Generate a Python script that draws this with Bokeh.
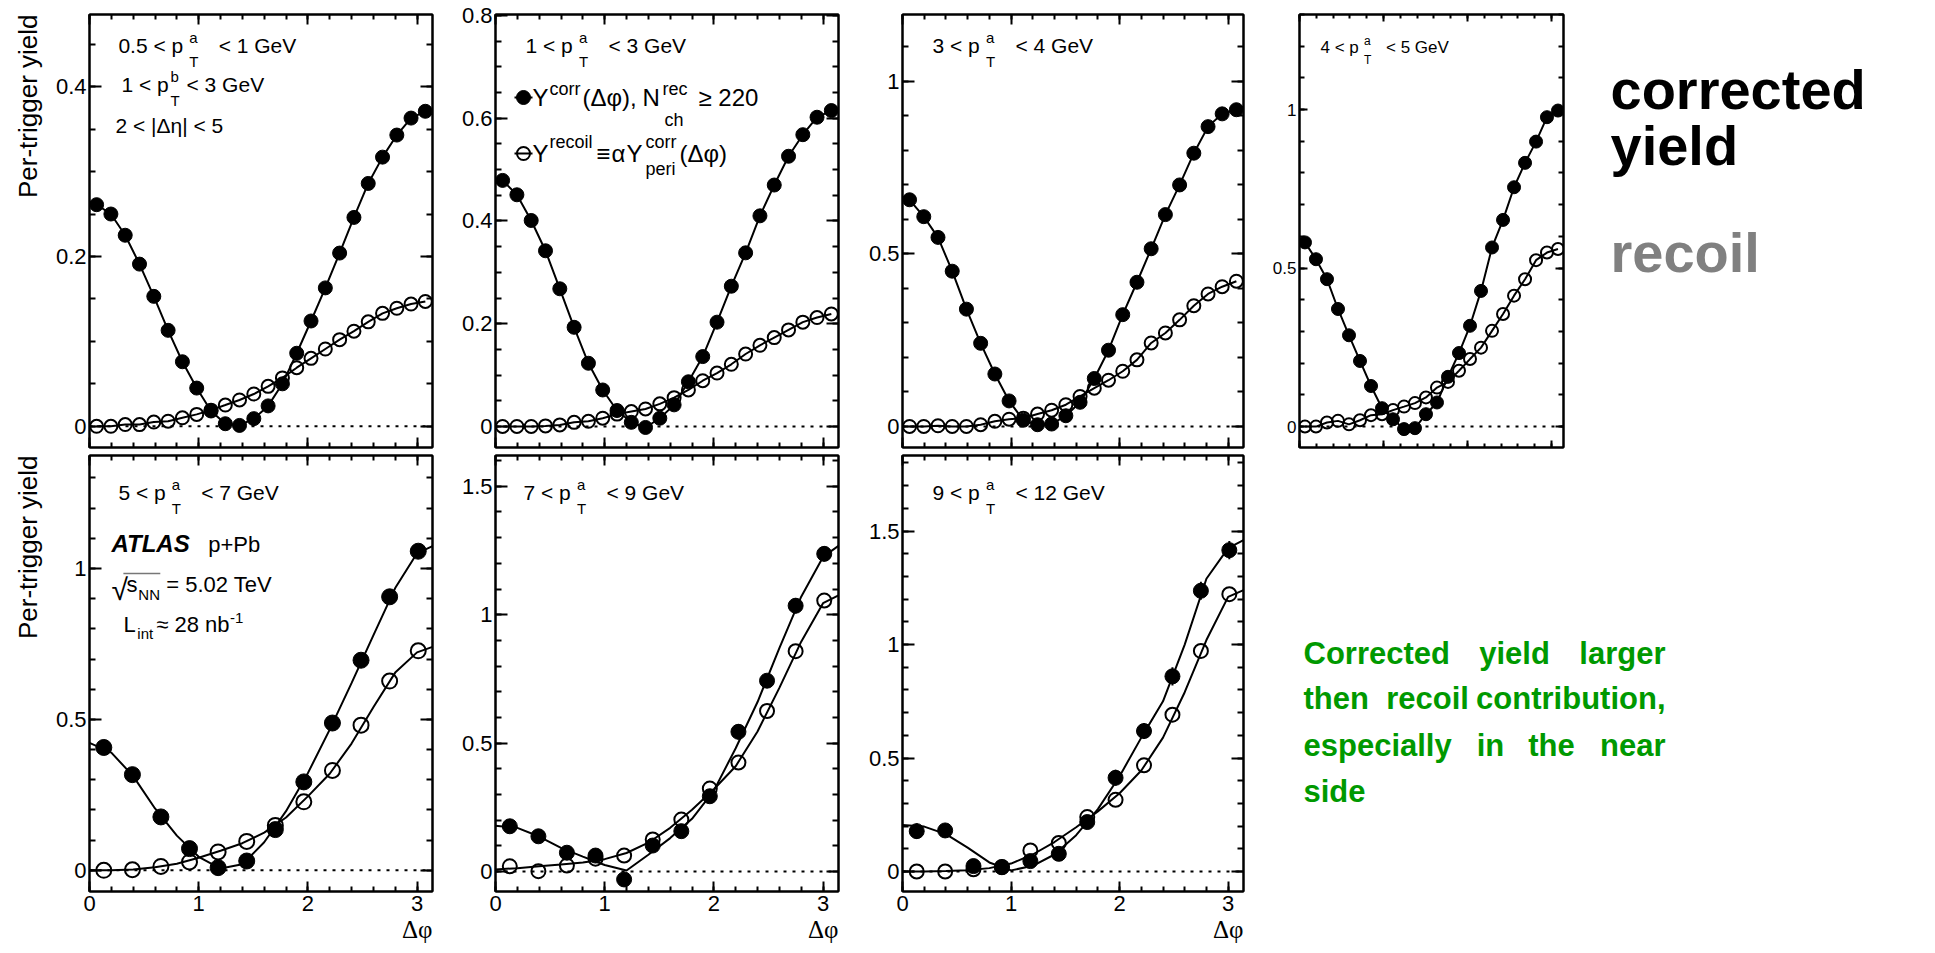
import math
from bokeh.plotting import figure
from bokeh.models import Range1d, LinearAxis, FixedTicker, CustomJSTickFormatter, Label, Span, Title
from bokeh.layouts import row, column
from bokeh.embed import file_html
from bokeh.resources import INLINE

PI = math.pi
SANS = "Liberation Sans"
SERIF = "Liberation Serif"
BASE_FIX = 0.38   # em shift so that the drawn baseline lands where it is wanted

# ---------------- data ----------------
X24 = [0.065, 0.196, 0.327, 0.458, 0.589, 0.720, 0.851, 0.982, 1.113, 1.244, 1.374, 1.505,
       1.636, 1.767, 1.898, 2.029, 2.160, 2.291, 2.422, 2.553, 2.684, 2.815, 2.945, 3.076]
X12 = [0.131, 0.393, 0.654, 0.916, 1.178, 1.440, 1.702, 1.963, 2.225, 2.487, 2.749, 3.011]
XFIT = [0.0, 0.2, 0.4, 0.6, 0.8, 1.0, 1.2, 1.4, 1.6, 1.8, 2.0, 2.2, 2.4, 2.6, 2.8, 3.0, 3.1416]

p1_corr = [0.261, 0.250, 0.225, 0.191, 0.153, 0.113, 0.076, 0.045, 0.018, 0.003, 0.001, 0.009,
           0.024, 0.050, 0.086, 0.124, 0.163, 0.204, 0.246, 0.286, 0.317, 0.343, 0.363, 0.371]
p1_recoil = [0.000, 0.000, 0.002, 0.002, 0.005, 0.006, 0.010, 0.014, 0.019, 0.025, 0.031, 0.038,
             0.047, 0.057, 0.069, 0.080, 0.091, 0.102, 0.112, 0.123, 0.133, 0.139, 0.144, 0.147]

p2_corr = [0.479, 0.451, 0.401, 0.342, 0.268, 0.193, 0.123, 0.071, 0.031, 0.008, -0.002, 0.016,
           0.042, 0.087, 0.136, 0.203, 0.273, 0.338, 0.410, 0.470, 0.526, 0.568, 0.602, 0.615]
p2_recoil = [0.000, 0.000, 0.000, 0.001, 0.003, 0.008, 0.010, 0.016, 0.024, 0.029, 0.034, 0.044,
             0.056, 0.071, 0.089, 0.104, 0.121, 0.141, 0.158, 0.173, 0.188, 0.203, 0.212, 0.219]

p3_corr = [0.657, 0.608, 0.548, 0.450, 0.340, 0.241, 0.152, 0.074, 0.018, 0.005, 0.007, 0.031,
           0.070, 0.139, 0.221, 0.324, 0.418, 0.515, 0.614, 0.700, 0.792, 0.869, 0.906, 0.918]
p3_recoil = [0.000, 0.000, 0.002, 0.000, 0.000, 0.005, 0.015, 0.021, 0.024, 0.036, 0.047, 0.063,
             0.087, 0.111, 0.134, 0.160, 0.193, 0.242, 0.271, 0.309, 0.350, 0.384, 0.405, 0.421]

p4_corr = [0.581, 0.528, 0.465, 0.371, 0.288, 0.207, 0.128, 0.058, 0.023, -0.008, -0.005, 0.039,
           0.076, 0.157, 0.232, 0.318, 0.428, 0.565, 0.652, 0.755, 0.832, 0.899, 0.976, 0.997]
p4_recoil = [0.000, 0.000, 0.013, 0.018, 0.007, 0.020, 0.036, 0.039, 0.052, 0.063, 0.074, 0.092,
             0.123, 0.141, 0.176, 0.213, 0.249, 0.302, 0.355, 0.413, 0.465, 0.525, 0.549, 0.560]

p5_corr = [0.407, 0.317, 0.177, 0.072, 0.009, 0.031, 0.135, 0.293, 0.488, 0.696, 0.906, 1.057]
p5_corr_err = [0.005, 0.005, 0.005, 0.005, 0.005, 0.005, 0.006, 0.007, 0.008, 0.009, 0.010, 0.010]
p5_recoil = [0.000, 0.002, 0.013, 0.028, 0.061, 0.096, 0.149, 0.227, 0.331, 0.481, 0.627, 0.727]
p5_corr_fit = [0.422, 0.390, 0.312, 0.205, 0.115, 0.045, 0.006, 0.020, 0.093, 0.196, 0.322, 0.466,
               0.620, 0.778, 0.935, 1.050, 1.074]
p5_recoil_fit = [0.000, 0.000, 0.003, 0.010, 0.022, 0.042, 0.065, 0.090, 0.125, 0.175, 0.245, 0.320,
                 0.420, 0.540, 0.655, 0.722, 0.740]

p6_corr = [0.176, 0.137, 0.073, 0.062, -0.031, 0.101, 0.157, 0.293, 0.544, 0.743, 1.035, 1.237]
p6_corr_err = [0.012, 0.012, 0.012, 0.012, 0.015, 0.015, 0.018, 0.020, 0.030, 0.025, 0.030, 0.030]
p6_recoil = [0.020, 0.001, 0.023, 0.050, 0.062, 0.125, 0.202, 0.323, 0.424, 0.625, 0.858, 1.055]
p6_corr_fit = [0.178, 0.170, 0.136, 0.092, 0.058, 0.025, 0.004, 0.065, 0.130, 0.205, 0.315, 0.480,
               0.660, 0.870, 1.070, 1.225, 1.268]
p6_recoil_fit = [0.008, 0.013, 0.020, 0.027, 0.035, 0.048, 0.072, 0.112, 0.170, 0.240, 0.320, 0.410,
                 0.545, 0.715, 0.895, 1.045, 1.075]

p7_corr = [0.178, 0.181, 0.024, 0.019, 0.046, 0.078, 0.218, 0.413, 0.619, 0.860, 1.237, 1.416]
p7_corr_err = [0.035, 0.030, 0.025, 0.020, 0.025, 0.030, 0.030, 0.035, 0.035, 0.040, 0.040, 0.040]
p7_recoil = [0.000, 0.000, 0.010, 0.020, 0.093, 0.126, 0.240, 0.316, 0.468, 0.691, 0.972, 1.222]
p7_corr_fit = [0.205, 0.198, 0.165, 0.105, 0.040, 0.005, 0.025, 0.075, 0.160, 0.275, 0.420, 0.590,
               0.750, 1.000, 1.290, 1.425, 1.460]
p7_recoil_fit = [0.000, 0.000, 0.002, 0.006, 0.015, 0.035, 0.075, 0.130, 0.195, 0.265, 0.345, 0.445,
                 0.590, 0.790, 1.020, 1.210, 1.240]

# tick labels / ranges
X_TICKS = [0, 1, 2, 3]
X_MINOR = [round(0.2 * i, 1) for i in range(16)]
Y_RANGES = {1: (-0.025, 0.485), 2: (-0.041, 0.802), 3: (-0.061, 1.194), 4: (-0.066, 1.30),
            5: (-0.070, 1.374), 6: (-0.078, 1.620), 7: (-0.088, 1.833)}
Y_TICKS_A = [0, 0.2, 0.4]
Y_TICKS_B = [0, 0.2, 0.4, 0.6, 0.8]
Y_TICKS_C = [0, 0.5, 1]
Y_TICKS_D = [0, 0.5, 1, 1.5]
PT_BINS = {1: ("0.5", "1"), 2: ("1", "3"), 3: ("3", "4"), 4: ("4", "5"),
           5: ("5", "7"), 6: ("7", "9"), 7: ("9", "12")}
Y_TITLE = "Per-trigger yield"
X_TITLE = "Δφ"

# ---------------- helpers ----------------
AW = {' ': 278, '.': 278, '<': 584, 'p': 556}


def tw(s, size):
    return sum(AW.get(c, 556) for c in s) * size / 1000.0


def minors(lo, hi, step):
    n = int(round((hi - lo) / step))
    return [round(lo + i * step, 4) for i in range(n + 1)]


FMT = "return String(tick)"
BLANK = "return ''"


def axis(ticks, minor_ticks, show, size, maj, mn, standoff):
    return LinearAxis(
        ticker=FixedTicker(ticks=ticks, minor_ticks=minor_ticks),
        formatter=CustomJSTickFormatter(code=FMT if show else BLANK),
        major_tick_in=maj, major_tick_out=0, minor_tick_in=mn, minor_tick_out=0,
        axis_line_width=2, major_tick_line_width=2, minor_tick_line_width=2,
        axis_line_color="black", major_tick_line_color="black", minor_tick_line_color="black",
        major_label_text_font=SANS,
        major_label_text_font_size=(f"{size}px" if show else "0px"),
        major_label_text_color="black",
        major_label_standoff=(standoff if show else 0))


class Panel:
    def __init__(self, idx, w, h, bl, br, bt, bb, yticks, yminor, show_x, ylab=22,
                 ymaj=12, ymin=6, xmaj=10, xmin=5, ytitle=False):
        y0, y1 = Y_RANGES[idx]
        self.y0, self.y1 = y0, y1
        self.fw = w - bl - br
        self.fh = h - bt - bb
        p = figure(width=w, height=h, x_range=Range1d(0, PI), y_range=Range1d(y0, y1),
                   x_axis_type=None, y_axis_type=None, output_backend="svg",
                   toolbar_location=None, min_border_left=bl, min_border_right=br,
                   min_border_top=bt, min_border_bottom=bb,
                   outline_line_color="black", outline_line_width=2,
                   background_fill_color="white", border_fill_color="white")
        p.add_layout(axis(yticks, yminor, True, ylab, ymaj, ymin, 3), "left")
        p.add_layout(axis(yticks, yminor, False, 0, ymaj, ymin, 0), "right")
        p.add_layout(axis(X_TICKS, X_MINOR, show_x, 22, xmaj, xmin, 4), "below")
        p.add_layout(axis(X_TICKS, X_MINOR, False, 0, xmaj, xmin, 0), "above")
        if ytitle:
            p.add_layout(Title(text=Y_TITLE, align="right", text_font=SANS,
                               text_font_size="26px", text_font_style="normal",
                               text_color="black", standoff=20), "left")
        if show_x:
            p.add_layout(Title(text=X_TITLE, align="right", text_font=SERIF,
                               text_font_size="25px", text_font_style="normal",
                               text_color="black", standoff=0), "below")
        p.add_layout(Span(location=0, dimension="width", line_color="black", line_width=2,
                          line_dash="3 6", level="underlay"))
        self.p = p

    def xy(self, dx, dy):
        return dx * PI / self.fw, self.y1 - dy * (self.y1 - self.y0) / self.fh

    def put(self, dx, dy, txt, size, style="normal", align="left", font=SANS,
            color="black"):
        x, y = self.xy(dx, dy - BASE_FIX * size)
        self.p.add_layout(Label(x=x, y=y, text=txt, text_font=font, text_font_size=f"{size}px",
                                text_font_style=style, text_align=align,
                                text_baseline="alphabetic", text_color=color))

    def pt_line(self, lo, hi, sup, dx, dy, size=21, sub=15, pad=0.3, gap=1.4):
        a = f"{lo} < p"
        self.put(dx, dy, a, size)
        xs = dx + tw(a, size) + pad * size
        self.put(xs, dy - 0.48 * size, sup, sub)
        self.put(xs, dy + 0.67 * size, "T", sub)
        self.put(xs + gap * size, dy, f"< {hi} GeV", size)


def draw_top(P, corr, recoil, msize=14):
    p = P.p
    p.line(X24, recoil, line_color="black", line_width=2)
    p.line(X24, corr, line_color="black", line_width=2)
    p.scatter(X24, recoil, marker="circle", size=msize - 1, fill_color=None,
              line_color="black", line_width=2)
    p.scatter(X24, corr, marker="circle", size=msize, fill_color="black", line_color="black")


def draw_bottom(P, corr, err, recoil, corr_fit, recoil_fit, msize=16):
    p = P.p
    p.line(XFIT, recoil_fit, line_color="black", line_width=2)
    p.line(XFIT, corr_fit, line_color="black", line_width=2)
    p.segment(X12, [c - e for c, e in zip(corr, err)], X12, [c + e for c, e in zip(corr, err)],
              line_color="black", line_width=2)
    p.scatter(X12, recoil, marker="circle", size=msize - 1, fill_color=None,
              line_color="black", line_width=2)
    p.scatter(X12, corr, marker="circle", size=msize, fill_color="black", line_color="black")


def text_fig(w, h, bt, bb, top_abs, bottom_abs):
    # data y == absolute page y (frame aligned with the row's panels)
    t = figure(width=w, height=h, x_range=Range1d(0, w), y_range=Range1d(bottom_abs, top_abs),
               x_axis_type=None, y_axis_type=None, output_backend="svg", toolbar_location=None,
               min_border_left=0, min_border_right=0, min_border_top=bt, min_border_bottom=bb,
               outline_line_color=None, background_fill_color="white", border_fill_color="white")
    return t


def tlabel(t, x, y, txt, size, color="black", align="left", font=SANS):
    t.add_layout(Label(x=x, y=y - BASE_FIX * size, text=txt, text_font=font,
                       text_font_size=f"{size}px", text_font_style="bold", text_color=color,
                       text_align=align, text_baseline="alphabetic"))


# ---------------- layout geometry ----------------
COLS = [(445, 88, 13), (405, 50, 12), (400, 52, 7), (325, 49, 12)]
H1, BT1, BB1 = 451, 14, 4
H2, BT2, BB2 = 501, 4, 61

ya_minor = minors(0, 0.45, 0.05)
yb_minor = minors(0, 0.8, 0.05)
yc_minor = minors(0, 1.3, 0.1)
yd_minor = minors(0, 1.8, 0.1)

# ---------------- top row ----------------
P1 = Panel(1, COLS[0][0], H1, COLS[0][1], COLS[0][2], BT1, BB1, Y_TICKS_A, ya_minor, False,
           ytitle=True)
draw_top(P1, p1_corr, p1_recoil)
P1.pt_line(*PT_BINS[1], "a", 29, 39)
P1.put(32, 78, "1 < p", 21)
P1.put(32 + tw("1 < p", 21) + 2, 78 - 10, "b", 15)
P1.put(32 + tw("1 < p", 21) + 2, 78 + 14, "T", 15)
P1.put(32 + tw("1 < p", 21) + 18, 78, "< 3 GeV", 21)
P1.put(26, 119, "2 < |Δη| < 5", 21)

P2 = Panel(2, COLS[1][0], H1, COLS[1][1], COLS[1][2], BT1, BB1, Y_TICKS_B, yb_minor, False)
draw_top(P2, p2_corr, p2_recoil)
P2.pt_line(*PT_BINS[2], "a", 30, 39)
# legend symbols
lx0, ly0 = P2.xy(19, 83)
lx1, _ = P2.xy(37, 83)
lxc, _ = P2.xy(28, 83)
P2.p.segment([lx0], [ly0], [lx1], [ly0], line_color="black", line_width=2)
P2.p.scatter([lxc], [ly0], marker="circle", size=14, fill_color="black", line_color="black")
mx0, my0 = P2.xy(19, 139)
mx1, _ = P2.xy(37, 139)
mxc, _ = P2.xy(28, 139)
P2.p.segment([mx0], [my0], [mx1], [my0], line_color="black", line_width=2)
P2.p.scatter([mxc], [my0], marker="circle", size=13, fill_color=None, line_color="black",
             line_width=2)
# legend text line 1
P2.put(37, 92, "Y", 24)
P2.put(54, 81, "corr", 18)
P2.put(87, 92, "(Δφ),", 24)
P2.put(147, 92, "N", 24)
P2.put(167, 81, "rec", 18)
P2.put(169, 112, "ch", 18)
P2.put(203, 92, "≥ 220", 24)
# legend text line 2
P2.put(37, 148, "Y", 24)
P2.put(54, 134, "recoil", 18)
P2.put(101, 148, "≡", 24)
P2.put(116, 148, "α", 24)
P2.put(131, 148, "Y", 24)
P2.put(150, 134, "corr", 18)
P2.put(150, 161, "peri", 18)
P2.put(184, 148, "(Δφ)", 24)

P3 = Panel(3, COLS[2][0], H1, COLS[2][1], COLS[2][2], BT1, BB1, Y_TICKS_C, yc_minor, False)
draw_top(P3, p3_corr, p3_recoil)
P3.pt_line(*PT_BINS[3], "a", 30, 39)

P4 = Panel(4, COLS[3][0], H1, COLS[3][1], COLS[3][2], BT1, BB1, Y_TICKS_C, yc_minor, False,
           ylab=17, ymaj=8, ymin=5, xmaj=7, xmin=4)
draw_top(P4, p4_corr, p4_recoil, msize=13)
P4.pt_line(*PT_BINS[4], "a", 21, 39, size=17, sub=12, gap=1.3)

T1W = 1935 - sum(c[0] for c in COLS)
T1 = text_fig(T1W, H1, BT1, BB1, BT1, H1 - BB1)
tlabel(T1, 35, 110, "corrected", 56)
tlabel(T1, 35, 166, "yield", 56)
tlabel(T1, 35, 273, "recoil", 56, color="#808080")

# ---------------- bottom row ----------------
P5 = Panel(5, COLS[0][0], H2, COLS[0][1], COLS[0][2], BT2, BB2, Y_TICKS_C, yc_minor, True,
           ytitle=True)
draw_bottom(P5, p5_corr, p5_corr_err, p5_recoil, p5_corr_fit, p5_recoil_fit)
P5.pt_line(*PT_BINS[5], "a", 29, 45)
P5.put(22, 97, "ATLAS", 24, style="bold italic")
P5.put(119, 97, "p+Pb", 22)
P5.put(22, 145, "√", 30)
sx0, sy0 = P5.xy(34, 118)
sx1, _ = P5.xy(71, 118)
P5.p.segment([sx0], [sy0], [sx1], [sy0], line_color="#777777", line_width=1.5)
P5.put(37, 137, "s", 22)
P5.put(49, 145, "NN", 15)
P5.put(77, 137, "= 5.02 TeV", 22)
P5.put(34, 177, "L", 22)
P5.put(48, 184, "int", 15)
P5.put(67, 177, "≈ 28 nb", 22)
P5.put(67 + 74, 168, "-1", 15)

P6 = Panel(6, COLS[1][0], H2, COLS[1][1], COLS[1][2], BT2, BB2, Y_TICKS_D, yd_minor, True)
draw_bottom(P6, p6_corr, p6_corr_err, p6_recoil, p6_corr_fit, p6_recoil_fit, msize=15)
P6.pt_line(*PT_BINS[6], "a", 28, 45)

P7 = Panel(7, COLS[2][0], H2, COLS[2][1], COLS[2][2], BT2, BB2, Y_TICKS_D, yd_minor, True)
draw_bottom(P7, p7_corr, p7_corr_err, p7_recoil, p7_corr_fit, p7_recoil_fit, msize=15)
P7.pt_line(*PT_BINS[7], "a", 30, 45)

T2W = 1935 - sum(c[0] for c in COLS[:3])
T2 = text_fig(T2W, H2, BT2, BB2, H1 + BT2, H1 + H2 - BB2)
ox = 1250
G = "#009900"
GS = 31
tlabel(T2, 1303 - ox, 665, "Corrected", GS, G)
tlabel(T2, 1514 - ox, 665, "yield", GS, G, align="center")
tlabel(T2, 1665 - ox, 665, "larger", GS, G, align="right")
tlabel(T2, 1303 - ox, 710, "then", GS, G)
tlabel(T2, 1427 - ox, 710, "recoil", GS, G, align="center")
tlabel(T2, 1665 - ox, 710, "contribution,", GS, G, align="right")
tlabel(T2, 1303 - ox, 757, "especially", GS, G)
tlabel(T2, 1490 - ox, 757, "in", GS, G, align="center")
tlabel(T2, 1551 - ox, 757, "the", GS, G, align="center")
tlabel(T2, 1665 - ox, 757, "near", GS, G, align="right")
tlabel(T2, 1303 - ox, 803, "side", GS, G)

layout = column(row(P1.p, P2.p, P3.p, P4.p, T1), row(P5.p, P6.p, P7.p, T2))

open("out.html", "w").write(file_html(layout, INLINE))
